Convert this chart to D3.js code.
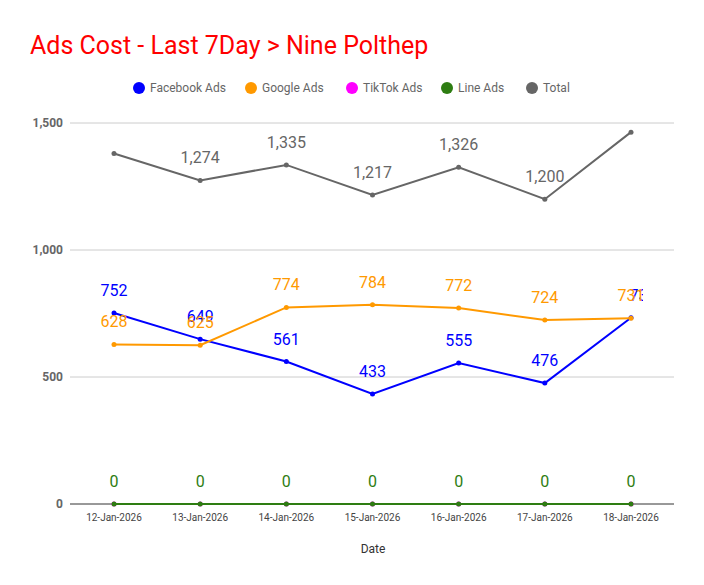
<!DOCTYPE html>
<html><head><meta charset="utf-8">
<script src="https://cdn.jsdelivr.net/npm/d3@7"></script>
<style>body{margin:0;background:#fff;font-family:Roboto,sans-serif}</style>
</head><body><div id="chart"></div>
<script>
const dates = ["12-Jan-2026","13-Jan-2026","14-Jan-2026","15-Jan-2026","16-Jan-2026","17-Jan-2026","18-Jan-2026"];
const facebook = [752, 649, 561, 433, 555, 476, 733];
const google = [628, 625, 774, 784, 772, 724, 731];
const tiktok = [0, 0, 0, 0, 0, 0, 0];
const line = [0, 0, 0, 0, 0, 0, 0];
const total = [1380, 1274, 1335, 1217, 1326, 1200, 1464];
const yTicks = [0, 500, 1000, 1500];

const series = [
  { name: "Facebook Ads", color: "#0000ff", values: facebook, labels: true },
  { name: "Google Ads", color: "#ff9900", values: google, labels: true },
  { name: "TikTok Ads", color: "#ff00ff", values: tiktok, labels: false },
  { name: "Line Ads", color: "#2e7d12", values: line, labels: true },
  { name: "Total", color: "#666666", values: total, labels: "inner" }
];

const width = 704, height = 585;
const svg = d3.select("#chart").append("svg").attr("width", width).attr("height", height);

svg.append("text").attr("x", 30).attr("y", 54).attr("fill", "#ff0000")
  .attr("font-size", 25).text("Ads Cost - Last 7Day > Nine Polthep");

const x = d3.scalePoint().domain(dates).range([114, 631]);
const y = d3.scaleLinear().domain([0, 1500]).range([504, 123]);

svg.append("g").selectAll("line").data(yTicks.slice(1)).join("line")
  .attr("x1", 70).attr("x2", 674).attr("y1", d => y(d)).attr("y2", d => y(d))
  .attr("stroke", "#cccccc");
svg.append("line").attr("x1", 70).attr("x2", 674).attr("y1", y(0)).attr("y2", y(0)).attr("stroke", "#333");

svg.append("g").selectAll("text").data(yTicks).join("text")
  .attr("x", 63).attr("y", d => y(d) + 4).attr("text-anchor", "end")
  .attr("font-size", 12).attr("font-weight", "bold").attr("fill", "#666")
  .text(d3.format(","));

svg.append("g").selectAll("text").data(dates).join("text")
  .attr("x", d => x(d)).attr("y", 521).attr("text-anchor", "middle")
  .attr("font-size", 10).attr("fill", "#444").text(d => d);

svg.append("text").attr("x", 373).attr("y", 553).attr("text-anchor", "middle")
  .attr("font-size", 12).attr("fill", "#333").text("Date");

// legend
const legendX = [133, 245, 346, 441, 526];
const lg = svg.append("g").selectAll("g").data(series).join("g")
  .attr("transform", (d, i) => `translate(${legendX[i]},88)`);
lg.append("circle").attr("cx", 6).attr("r", 6).attr("fill", d => d.color);
lg.append("text").attr("x", 17).attr("y", 4).attr("font-size", 12).attr("fill", "#666").text(d => d.name);

svg.append("clipPath").attr("id", "clip").append("rect").attr("x", 0).attr("y", 0).attr("width", 643).attr("height", height);

const gen = d3.line().x((d, i) => x(dates[i])).y(d => y(d));
const plot = svg.append("g");
series.forEach(s => {
  plot.append("path").attr("d", gen(s.values)).attr("fill", "none")
    .attr("stroke", s.color).attr("stroke-width", 2);
  plot.append("g").selectAll("circle").data(s.values).join("circle")
    .attr("cx", (d, i) => x(dates[i])).attr("cy", d => y(d)).attr("r", 2.5).attr("fill", s.color);
});

const lab = svg.append("g").attr("clip-path", "url(#clip)");
// Facebook's last label sits behind Google's, shifted right
[series[3], series[4], series[0], series[1]].forEach(s => {
  s.values.forEach((v, i) => {
    if (s.labels === "inner" && (i === 0 || i === s.values.length - 1)) return;
    const last = s === series[0] && i === s.values.length - 1;
    lab.append("text").attr("x", x(dates[i]) + (last ? 12 : 0)).attr("y", y(v) - 17)
      .attr("text-anchor", "middle").attr("font-size", 16).attr("fill", s.color)
      .text(d3.format(",")(v));
  });
});
</script></body></html>
